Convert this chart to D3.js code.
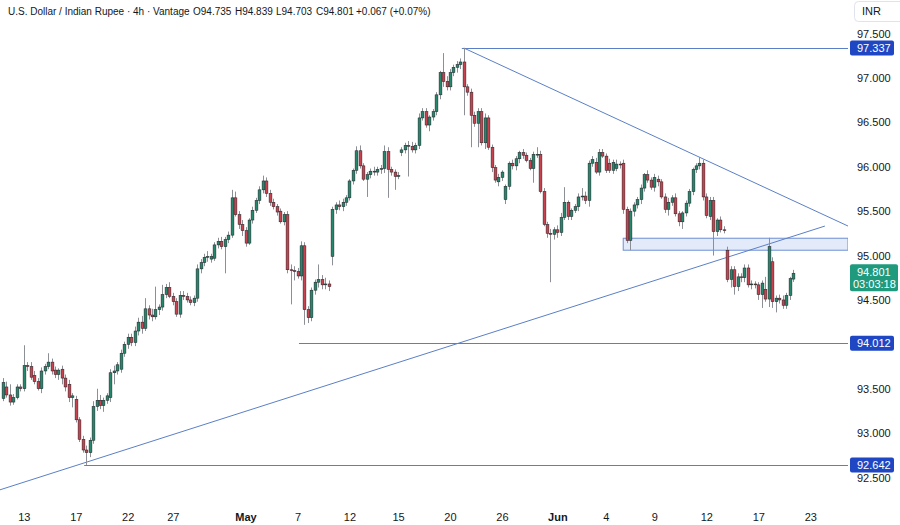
<!DOCTYPE html>
<html>
<head>
<meta charset="utf-8">
<script src="https://cdn.jsdelivr.net/npm/d3@7"></script>
<style>
  body { margin: 0; background: #fff; }
  svg { display: block; font-family: "Liberation Sans", Arial, sans-serif; }
</style>
</head>
<body>
<div id="chart"></div>
<script>
// 4h candles, [open, high, low, close]
const aprilCandles = [
  [93.39,93.62,93.36,93.57],[93.52,93.58,93.40,93.43],[93.43,93.55,93.31,93.35],[93.35,93.44,93.32,93.40],
  [93.40,93.55,93.38,93.52],[93.52,93.55,93.47,93.50],[93.50,93.99,93.47,93.76],[93.76,93.80,93.70,93.75],
  [93.75,93.80,93.60,93.63],[93.65,93.70,93.55,93.58],[93.58,93.62,93.48,93.50],[93.50,93.74,93.45,93.70],
  [93.70,93.78,93.66,93.75],[93.75,93.90,93.72,93.80],[93.80,93.84,93.66,93.70],[93.71,93.75,93.62,93.66],
  [93.66,93.73,93.60,93.71],[93.72,93.76,93.55,93.62],[93.62,93.66,93.47,93.52],[93.55,93.60,93.35,93.40],
  [93.40,93.45,93.29,93.42],[93.38,93.42,93.12,93.15],[93.15,93.18,92.90,92.93],[92.93,92.97,92.78,92.81],
  [92.81,92.86,92.642,92.78],[92.78,92.95,92.73,92.92],[92.92,93.36,92.88,93.30],[93.30,93.50,93.25,93.37],
  [93.37,93.43,93.27,93.31],[93.31,93.40,93.24,93.37],[93.37,93.45,93.33,93.42],[93.40,93.72,93.35,93.68],
  [93.68,93.76,93.55,93.70],[93.70,93.80,93.66,93.77],[93.72,93.94,93.68,93.90],[93.90,94.03,93.86,94.00],
  [94.00,94.12,93.95,94.08],[94.08,94.12,93.98,94.02],[94.02,94.20,93.98,94.15],[94.15,94.30,94.10,94.25],
  [94.25,94.32,94.12,94.18],[94.18,94.52,94.15,94.40],[94.40,94.44,94.28,94.33],[94.33,94.40,94.26,94.31],
  [94.31,94.65,94.28,94.39],[94.39,94.45,94.33,94.42],[94.42,94.67,94.38,94.56],[94.56,94.68,94.52,94.64],
  [94.64,94.70,94.52,94.54],[94.54,94.58,94.44,94.48],[94.48,94.52,94.31,94.34],[94.34,94.60,94.30,94.55],
  [94.55,94.60,94.50,94.54],[94.54,94.58,94.47,94.50],[94.50,94.54,94.44,94.47],[94.47,94.55,94.43,94.52],
  [94.52,94.90,94.48,94.85],[94.85,94.96,94.80,94.92],[94.92,95.02,94.88,94.98],[94.98,95.05,94.93,94.99],
  [94.96,95.02,94.92,94.99],[94.97,95.15,94.94,95.12],[95.12,95.20,95.08,95.16],[95.16,95.21,95.07,95.10],
  [95.10,95.21,94.80,95.18],[95.18,95.27,95.14,95.23],[95.23,95.74,95.20,95.65],[95.65,95.72,95.44,95.46],
  [95.46,95.50,95.30,95.35],[95.35,95.40,95.22,95.28]
];
const mayCandles = [
  [95.28,95.32,95.10,95.14],[95.14,95.42,95.12,95.40],[95.40,95.55,95.36,95.51],[95.51,95.65,95.48,95.62],
  [95.62,95.78,95.58,95.74],[95.74,95.90,95.70,95.84],[95.84,95.88,95.66,95.70],[95.70,95.74,95.56,95.60],
  [95.60,95.64,95.52,95.55],[95.55,95.58,95.45,95.49],[95.50,95.53,95.36,95.38],[95.38,95.49,95.34,95.46],
  [95.46,95.50,94.80,94.84],[94.84,94.90,94.45,94.83],[94.83,94.88,94.72,94.82],[94.82,94.86,94.74,94.77],
  [94.77,95.16,94.72,95.11],[95.11,95.15,94.22,94.39],[94.39,94.43,94.24,94.30],[94.30,94.64,94.26,94.61],
  [94.61,94.73,94.56,94.70],[94.70,94.90,94.64,94.73],[94.73,94.78,94.62,94.67],[94.67,94.75,94.62,94.68],
  [94.68,94.72,94.60,94.65],[94.99,95.55,94.89,95.52],[95.52,95.60,95.47,95.57],[95.57,95.62,95.51,95.55],
  [95.55,95.64,95.50,95.60],[95.60,95.68,95.56,95.65],[95.65,95.86,95.62,95.84],[95.84,95.98,95.80,95.96],
  [95.96,96.23,95.92,96.18],[96.18,96.24,95.98,96.01],[96.01,96.04,95.84,95.86],[95.86,95.94,95.66,95.91],
  [95.91,95.98,95.87,95.95],[95.95,96.00,95.90,95.94],[95.94,96.00,95.90,95.97],[95.97,96.02,95.92,95.98],
  [95.98,96.24,95.93,96.17],[96.17,96.22,95.65,95.97],[95.97,96.00,95.90,95.94],[95.94,95.97,95.74,95.89],
  [95.89,95.94,95.86,95.90],[96.16,96.22,96.12,96.19],[96.19,96.27,96.15,96.24],[96.24,96.29,95.89,96.23],
  [96.23,96.28,96.16,96.19],[96.19,96.27,96.15,96.24],[96.24,96.60,96.20,96.55],[96.55,96.66,96.52,96.62],
  [96.62,96.66,96.44,96.47],[96.47,96.58,96.40,96.56],[96.56,96.65,96.52,96.62],[96.62,96.84,96.58,96.81],
  [96.81,97.08,96.76,97.06],[97.06,97.28,96.90,96.96],[96.96,97.02,96.86,96.90],[96.90,97.10,96.86,97.06],
  [97.06,97.15,97.02,97.12],[97.12,97.19,97.06,97.15],[97.15,97.22,97.10,97.18],[97.18,97.337,96.58,96.90],
  [96.90,96.93,96.80,96.84],[96.84,96.88,96.22,96.58],[96.58,96.62,96.45,96.49],[96.49,96.66,96.22,96.62],
  [96.62,96.66,96.24,96.27],[96.27,96.60,96.20,96.55],[96.55,96.58,96.19,96.22],[96.22,96.25,95.94,95.99],
  [95.99,96.02,95.82,95.85],[95.83,95.92,95.78,95.88],[95.88,95.96,95.84,95.94],[95.63,95.80,95.58,95.78],
  [95.78,96.06,95.74,96.04],[96.04,96.08,95.97,96.01],[96.01,96.12,95.96,96.09],[96.09,96.18,96.04,96.16],
  [96.16,96.20,96.09,96.13],[96.13,96.16,96.05,96.07],[96.07,96.10,95.96,95.98],[95.98,96.17,95.82,96.14],
  [96.14,96.22,96.10,96.14],[96.14,96.18,95.70,95.72],[95.72,95.76,95.33,95.35],[95.35,95.38,95.20,95.25],
  [95.25,95.30,94.70,95.24],[95.24,95.32,95.18,95.29]
];
const juneCandles = [
  [95.29,95.34,95.20,95.26],[95.26,95.48,95.22,95.43],[95.43,95.77,95.40,95.60],[95.60,95.62,95.40,95.44],
  [95.44,95.53,95.40,95.51],[95.51,95.58,95.48,95.55],[95.55,95.70,95.50,95.66],[95.66,95.76,95.62,95.67],
  [95.67,95.72,95.58,95.62],[95.62,96.07,95.55,96.04],[96.04,96.12,96.00,96.08],[96.05,96.10,95.92,95.94],
  [95.94,96.20,95.90,96.16],[96.16,96.20,96.10,96.12],[96.12,96.15,95.93,95.96],[96.04,96.09,95.93,95.96],
  [95.96,96.08,95.92,96.05],[95.98,96.08,95.95,96.03],[96.03,96.06,95.98,96.02],[96.04,96.08,95.47,95.52],
  [95.52,95.55,95.14,95.17],[95.17,95.53,95.06,95.50],[95.50,95.60,95.44,95.57],[95.57,95.66,95.53,95.63],
  [95.63,95.80,95.58,95.76],[95.76,95.93,95.72,95.91],[95.91,95.96,95.82,95.85],[95.85,95.88,95.74,95.77],
  [95.77,95.92,95.72,95.88],[95.86,95.90,95.78,95.83],[95.83,95.86,95.64,95.66],[95.66,95.70,95.48,95.52],
  [95.52,95.65,95.45,95.60],[95.60,95.68,95.56,95.65],[95.65,95.70,95.44,95.47],[95.47,95.50,95.33,95.38],
  [95.38,95.50,95.30,95.48],[95.48,95.62,95.44,95.59],[95.59,95.75,95.55,95.72],[95.72,95.99,95.68,95.97],
  [95.97,96.04,95.93,96.01],[96.01,96.11,95.97,96.04],[96.04,96.08,95.62,95.66],[95.66,95.70,95.42,95.45],
  [95.44,95.66,95.40,95.62],[95.62,95.66,95.00,95.27],[95.27,95.42,95.22,95.40],[95.40,95.44,95.26,95.29],
  [95.29,95.33,95.25,95.28],[95.06,95.10,94.70,94.73],[94.73,94.88,94.64,94.84],[94.84,94.88,94.56,94.65],
  [94.65,94.80,94.60,94.76],[94.76,94.80,94.70,94.75],[94.75,94.90,94.70,94.86],[94.86,94.90,94.64,94.67],
  [94.67,94.72,94.62,94.68],[94.68,94.71,94.63,94.67],[94.67,94.70,94.50,94.56],[94.56,94.72,94.41,94.69],
  [94.62,94.76,94.48,94.51],[94.51,95.20,94.42,95.10],[94.93,94.98,94.41,94.48],[94.48,94.55,94.36,94.52],
  [94.52,94.56,94.46,94.50],[94.50,94.55,94.40,94.44],[94.44,94.58,94.40,94.55],[94.55,94.76,94.50,94.74],
  [94.735,94.839,94.703,94.801]
];

// time axis labels sit on candle indexes
const timeTickIndex = [6, 21, 36, 49, 70, 85, 100, 114, 129, 144, 160, 174, 188, 203, 218, 233];
const timeTickText = ["13", "17", "22", "27", "May", "7", "12", "15", "20", "26", "Jun", "4", "9", "12", "17", "23"];
const priceTicks = [92.5, 93.0, 93.5, 94.0, 94.5, 95.0, 95.5, 96.0, 96.5, 97.0, 97.5];

// drawings: horizontal levels [start index, price], trendlines [[i, p], [i, p]]
const levels = [[133, 97.337], [86, 94.012], [24, 92.642]];
const fallingLine = [[133, 97.337], [243.9, 95.332]];
const risingLine = [[-1.16, 92.358], [237.2, 95.332]];
const zone = { start: 179, low: 95.06, high: 95.195 };

const title = "U.S. Dollar / Indian Rupee · 4h · Vantage";
const ohlcLabels = ["O94.735", "H94.839", "L94.703", "C94.801", "+0.067 (+0.07%)"];
const lastPrice = 94.801;
const countdown = "03:03:18";

const candles = aprilCandles.concat(mayCandles, juneCandles).map((d, i) => ({
  i: i, open: d[0], high: d[1], low: d[2], close: d[3]
}));

const width = 900, height = 525;
const plotW = 848, plotH = 503;
const upColor = "#26876c", downColor = "#c8434f";
const drawColor = "#5b7fc7", labelBlue = "#1f47c4";

const svg = d3.select("#chart").append("svg")
  .attr("width", width)
  .attr("height", height);

const x = d3.scaleLinear().domain([0, candles.length - 1]).range([3, 793]);
const y = d3.scaleLinear().domain([92.247, 97.878]).range([500, 0]);

svg.append("clipPath").attr("id", "plot")
  .append("rect").attr("width", plotW).attr("height", plotH);

const plot = svg.append("g").attr("clip-path", "url(#plot)");

// support / resistance zone
plot.append("rect")
  .attr("x", x(zone.start))
  .attr("y", y(zone.high))
  .attr("width", plotW - x(zone.start))
  .attr("height", y(zone.low) - y(zone.high))
  .attr("fill", "#e3eafa")
  .attr("stroke", "#6f8fd3")
  .attr("stroke-width", 1);

// horizontal levels
plot.selectAll(".level")
  .data(levels)
  .enter()
  .append("line")
  .attr("x1", d => x(d[0]) - 2)
  .attr("x2", plotW)
  .attr("y1", d => Math.round(y(d[1])) + 0.5)
  .attr("y2", d => Math.round(y(d[1])) + 0.5)
  .attr("stroke", drawColor)
  .attr("stroke-width", 1);

// trendlines
plot.selectAll(".trend")
  .data([fallingLine, risingLine])
  .enter()
  .append("line")
  .attr("x1", d => x(d[0][0]))
  .attr("y1", d => y(d[0][1]))
  .attr("x2", d => x(d[1][0]))
  .attr("y2", d => y(d[1][1]))
  .attr("stroke", drawColor)
  .attr("stroke-width", 1);

// wicks
plot.selectAll(".wick")
  .data(candles)
  .enter()
  .append("line")
  .attr("x1", d => Math.round(x(d.i)) + 0.5)
  .attr("x2", d => Math.round(x(d.i)) + 0.5)
  .attr("y1", d => y(d.high))
  .attr("y2", d => y(d.low))
  .attr("stroke", "#8d8f96")
  .attr("stroke-width", 1);

// bodies
let bodyW = 2.8;
plot.selectAll(".body")
  .data(candles)
  .enter()
  .append("rect")
  .attr("x", d => Math.round(x(d.i)) + 0.5 - bodyW / 2)
  .attr("y", d => y(Math.max(d.open, d.close)))
  .attr("width", bodyW)
  .attr("height", d => Math.max(0.8, Math.abs(y(d.open) - y(d.close))))
  .attr("fill", d => d.close >= d.open ? upColor : downColor)
  .attr("stroke", "#1d1f24")
  .attr("stroke-width", 0.5);

// price axis
let yAxis = svg.append("g")
  .attr("transform", `translate(${plotW + 9},0)`)
  .call(d3.axisRight(y).tickValues(priceTicks).tickFormat(d3.format(".3f")).tickSize(0));
yAxis.select(".domain").remove();
yAxis.selectAll("text")
  .attr("x", 0)
  .attr("fill", "#131722")
  .style("font-size", "11px")
  .style("font-family", "Liberation Sans, Arial, sans-serif");

// time axis
let xAxis = svg.append("g")
  .attr("transform", `translate(0,${plotH + 7})`)
  .call(d3.axisBottom(x).tickValues(timeTickIndex).tickFormat((d, i) => timeTickText[i]).tickSize(0));
xAxis.select(".domain").remove();
xAxis.selectAll("text")
  .attr("fill", "#131722")
  .style("font-size", "11px")
  .style("font-weight", (d, i) => timeTickText[i] === "May" || timeTickText[i] === "Jun" ? "bold" : "normal")
  .style("font-family", "Liberation Sans Narrow, Liberation Sans, Arial, sans-serif");

// level labels on the price axis
let levelTags = svg.selectAll(".tag")
  .data(levels)
  .enter()
  .append("g")
  .attr("transform", d => `translate(${plotW + 2},${y(d[1])})`);
levelTags.append("rect")
  .attr("x", 0).attr("y", -7.5)
  .attr("width", 44).attr("height", 15)
  .attr("rx", 2)
  .attr("fill", labelBlue);
levelTags.append("text")
  .attr("x", 7).attr("y", 4)
  .attr("fill", "#fff")
  .style("font-size", "11px")
  .text(d => d3.format(".3f")(d[1]));

// last price tag
let lastTag = svg.append("g")
  .attr("transform", `translate(${plotW + 2},${y(lastPrice)})`);
lastTag.append("rect")
  .attr("x", 0).attr("y", -9)
  .attr("width", 48).attr("height", 27)
  .attr("rx", 2)
  .attr("fill", "#1f9a7d");
lastTag.append("text")
  .attr("x", 7).attr("y", 3)
  .attr("fill", "#fff")
  .style("font-size", "11px")
  .text(d3.format(".3f")(lastPrice));
lastTag.append("text")
  .attr("x", 3).attr("y", 14.5)
  .attr("fill", "#fff")
  .style("font-size", "11px")
  .text(countdown);

// currency box
svg.append("rect")
  .attr("x", 854.5).attr("y", 1.5)
  .attr("width", 50).attr("height", 20)
  .attr("rx", 4)
  .attr("fill", "#fff")
  .attr("stroke", "#e0e3eb");
svg.append("text")
  .attr("x", 862).attr("y", 15)
  .attr("fill", "#131722")
  .style("font-size", "11px")
  .text("INR");

// legend: title then O/H/L/C values, spaced like the original
let legend = svg.append("text")
  .attr("y", 15)
  .attr("fill", "#131722")
  .style("font-size", "10px");
legend.append("tspan").attr("x", 8).text(title);
let legendX = [193, 235, 276, 316, 356];
ohlcLabels.forEach((t, i) => {
  legend.append("tspan").attr("x", legendX[i]).text(t);
});
</script>
</body>
</html>
